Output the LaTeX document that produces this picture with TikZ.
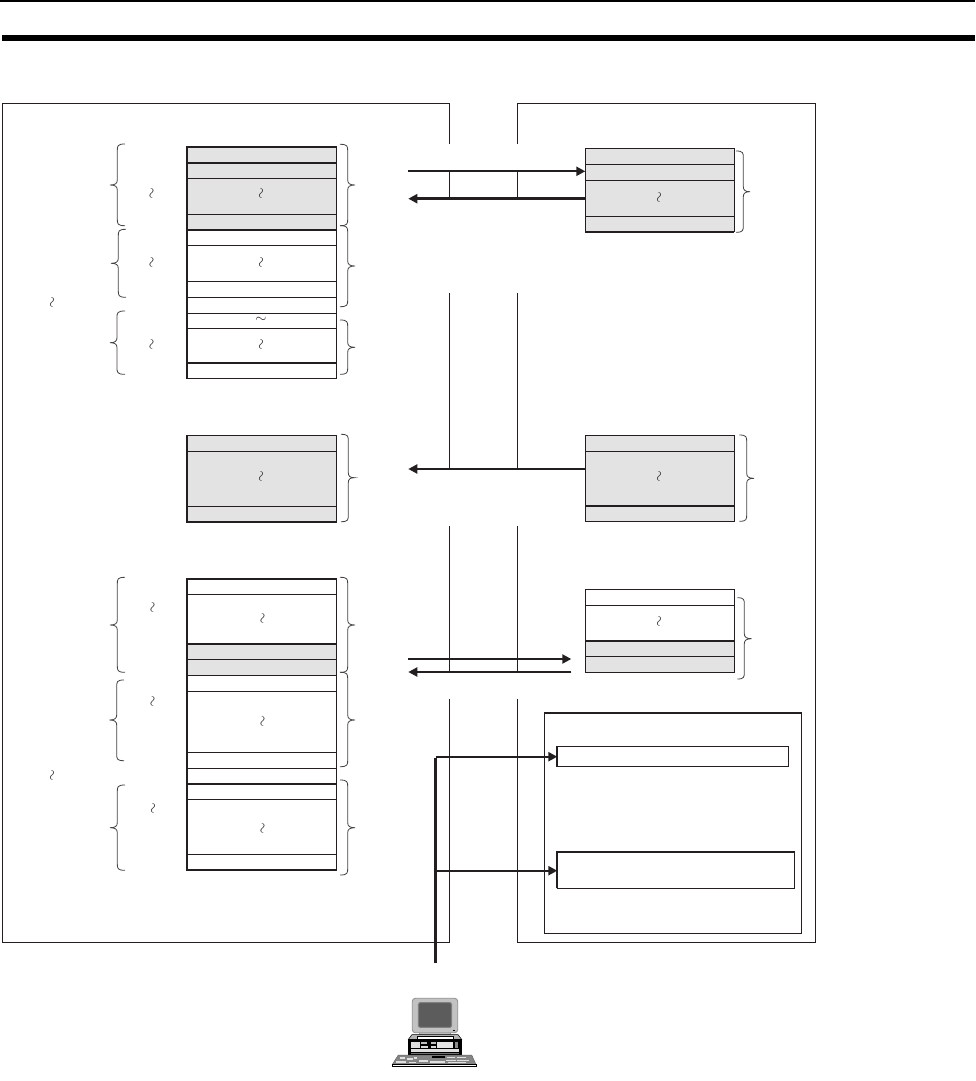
\documentclass[tikz,border=0pt]{standalone}
\usetikzlibrary{arrows.meta}
\definecolor{ink}{HTML}{231F20}
\definecolor{bandgray}{HTML}{E3E3E3}
\newcommand{\stk}[5]{% name x1 y1 x2 y2
  \pgfmathsetmacro{\stkw}{#4-#2}\pgfmathsetmacro{\stkh}{#5-#3}
  \node[stackbox,minimum width=\stkw pt,minimum height=\stkh pt] (#1) at (#2,#3) {};}
\newcommand{\lightrows}[3]{% x1 x2 list of y
  \foreach \yy in {#3} {\draw[thinrow] (#1,\yy) -- (#2,\yy);}}
\newcommand{\heavyrows}[3]{%
  \foreach \yy in {#3} {\draw[thickrow] (#1,\yy) -- (#2,\yy);}}
\newcommand{\bandfill}[4]{\fill[bandgray] (#1,#2) rectangle (#3,#4);}
\newcommand{\brc}[6]{% xend xspine xtip y1 ytip y2
  \pgfmathsetmacro{\xq}{#2+0.3*(#3-#2)}
  \draw[bracestroke] (#1,#4) .. controls (#2,#4) and (#2,#4+2) .. (#2,#4+7)
    -- (#2,#5-5) .. controls (#2,#5-1.5) and (\xq,#5) .. (#3,#5)
    .. controls (\xq,#5) and (#2,#5+1.5) .. (#2,#5+5)
    -- (#2,#6-7) .. controls (#2,#6-2) and (#2,#6) .. (#1,#6);}
\begin{document}
\begin{tikzpicture}[x=1pt,y=-1pt,
  frame/.style={draw=ink,line width=1pt},
  stackbox/.style={draw=ink,line width=1.1pt,anchor=north west,inner sep=0pt,outer sep=0pt},
  thinrow/.style={draw=ink,line width=0.9pt},
  thickrow/.style={draw=ink,line width=1.7pt},
  bracestroke/.style={draw=ink!85,line width=0.8pt},
  wig/.style={inner sep=0pt,text=ink,rotate=82,font=\fontsize{13.5}{13.5}\selectfont},
  flow/.style={draw=ink,line width=2.2pt,-{Triangle[length=9pt,width=9pt]}},
  flowheavy/.style={draw=ink,line width=2.7pt,-{Triangle[length=9pt,width=9pt]}}
]
\useasboundingbox (0,0) rectangle (975,1081);
\fill[white] (0,0) rectangle (975,1081);
% header rules
\fill[black] (0,0) rectangle (975,2);
\fill[black] (2,35) rectangle (975,41);

% outer frames, broken where the arrows pass
\draw[frame] (449.5,143.5) -- (449.5,103.3) -- (2.7,103.3) -- (2.7,942.3) -- (449.5,942.3) -- (449.5,699);
\draw[frame] (517.3,143.5) -- (517.3,103.3) -- (815.3,103.3) -- (815.3,942.3) -- (517.3,942.3) -- (517.3,699);
\foreach \xx in {449.5,517.3} {
  \draw[frame] (\xx,172) -- (\xx,199);
  \draw[frame] (\xx,293.3) -- (\xx,469);
  \draw[frame] (\xx,526) -- (\xx,672);
}

% left stack 1
\bandfill{187}{146.7}{336.5}{230}
\stk{la}{187}{146.7}{336.5}{378.3}
\lightrows{187}{336.5}{178.3,214.3,245.3,281.3,297.3,313.3,328.3}
\heavyrows{187}{336.5}{146.7,162.7,230,362.7}
% left stack 2
\bandfill{187}{435.3}{336.5}{522}
\stk{lb}{187}{435.3}{336.5}{522}
\lightrows{187}{336.5}{451.3,506.3}
\heavyrows{187}{336.5}{522}
% left stack 3
\bandfill{187}{643.7}{336.5}{675.3}
\stk{lc}{187}{579}{336.5}{870}
\lightrows{187}{336.5}{594.3,659.3,675.3,691.3,752.3,768.3,799.3,854.3}
\heavyrows{187}{336.5}{579,643.7,784,870}
% right stack 1
\bandfill{585.3}{148.3}{734.3}{231.7}
\stk{ra}{585.3}{148.3}{734.3}{231.7}
\lightrows{585.3}{734.3}{164.3,180.3,216.3}
\heavyrows{585.3}{734.3}{231.7}
% right stack 2
\bandfill{585.3}{435.3}{734.3}{521.3}
\stk{rb}{585.3}{435.3}{734.3}{521.3}
\lightrows{585.3}{734.3}{451.3}
\heavyrows{585.3}{734.3}{506}
% right stack 3
\bandfill{585.3}{641}{734.3}{672.3}
\stk{rc}{585.3}{589.3}{734.3}{672.3}
\lightrows{585.3}{734.3}{605.3,656.3}
\heavyrows{585.3}{734.3}{641}

% squiggles
\foreach \px/\py [count=\i] in {262/194,262/262.7,262/345,152.5/194,152.5/262.7,152.5/345,53/303,
  262/476.7,263.5/618.3,263.5/721.7,263.5/828.3,153.5/607.7,153.5/701.7,154/809,53/775.7,
  660/197.7,660/477,660/621.7}
  \node[wig] (w\i) at (\px,\py) {$\sim$};
\node[inner sep=0pt,text=ink,font=\fontsize{14}{14}\selectfont] (wh) at (261,320) {$\sim$};

% left braces
\brc{125}{117.3}{110}{144}{185}{225.7}
\brc{126}{118.3}{111}{229.3}{263.3}{297.3}
\brc{125}{117}{110}{311}{342.7}{374.3}
\brc{125}{117.3}{110}{577.3}{625}{672.3}
\brc{124}{116.7}{109.3}{680}{720}{760.7}
\brc{125}{117.3}{110}{785}{827.7}{870.3}
% right braces
\brc{340}{347.7}{355}{144.3}{185}{225.7}
\brc{340}{347.7}{355}{225.7}{266}{306.7}
\brc{340}{347.7}{355}{320}{347.3}{374.3}
\brc{341}{348.3}{354.3}{434.3}{477.7}{521.7}
\brc{340}{347.7}{355}{577.3}{625}{672.3}
\brc{340}{347.7}{355}{672.3}{720}{766.7}
\brc{340}{347.7}{355}{780}{827.7}{875}
\brc{736}{743.3}{750}{151}{191.7}{232.3}
\brc{739.3}{746.7}{754}{435}{478.3}{521.3}
\brc{737.3}{744.3}{751.7}{597.7}{638.7}{679}

% arrows between the stacks
\coordinate (a1) at (408.3,171.3);
\coordinate (a2) at (408.3,198.7);
\coordinate (a3) at (408.3,469);
\coordinate (a4) at (408.3,659);
\coordinate (a5) at (408.3,672);
\draw[flow] (a1) -- (ra.west |- a1);
\draw[flowheavy] (ra.west |- a2) -- (a2);
\draw[flow] (rb.west |- a3) -- (a3);
\draw[flow,shorten >=14pt] (a4) -- (rc.west |- a4);
\draw[flow,shorten <=14pt] (rc.west |- a5) -- (a5);

% inner panel
\node[draw=ink,line width=1pt,anchor=north west,inner sep=0pt,outer sep=0pt,minimum width=257.4pt,minimum height=220.6pt] (panel) at (544.3,712.7) {};
\draw[draw=ink,line width=1.8pt] (544.3,712.7) -- (801.7,712.7);
\node[draw=ink,line width=1pt,anchor=north west,inner sep=0pt,outer sep=0pt,minimum width=231.4pt,minimum height=20.4pt] (pa) at (557.3,746.3) {};
\draw[draw=ink,line width=1.7pt] (pa.north west) -- (pa.south west);
\node[draw=ink,line width=1pt,anchor=north west,inner sep=0pt,outer sep=0pt,minimum width=237.4pt,minimum height=36.3pt] (pb) at (557.3,852) {};
\draw[draw=ink,line width=1.9pt] (pb.south west) -- (pb.north west) -- (pb.north east);

% computer link
\coordinate (pcup) at (435.7,962.7);
\coordinate (tapa) at (435.7,756.7);
\coordinate (tapb) at (435.7,870.7);
\draw[draw=ink,line width=2.7pt,line cap=butt] (pcup) -- ([yshift=-1.1pt]tapa);
\draw[flow] (tapa) -- (pa.west |- tapa);
\draw[flow] (tapb) -- (pb.west |- tapb);

% computer
\fill[black!24] (420,1033) -- (450,1033) -- (452,1037) -- (418,1037) -- cycle;
\draw[black!55,line width=0.5pt] (420,1033) -- (418,1037) -- (452,1037) -- (450,1033);
\filldraw[fill=black!24,draw=black!45,line width=0.8pt,rounded corners=3pt] (412.3,998.3) rectangle (457.7,1032.7);
\filldraw[fill=black!64,draw=black!50,line width=1pt,rounded corners=1.5pt] (418.3,1002.7) rectangle (451.7,1027.3);
\fill[black] (453,1030) rectangle (455,1031);
\filldraw[fill=black!30,draw=black,line width=0.5pt] (412,1034.5) -- (408.3,1039.5) -- (461.7,1039.5) -- (458,1034.5) -- cycle;
\filldraw[fill=white,draw=black,line width=0.7pt] (417,1036.5) rectangle (453.5,1039);
\fill[black] (408.3,1039.3) rectangle (461.7,1055);
\fill[black!12] (410.7,1041.5) rectangle (420,1048);
\fill[black!25] (421,1041.5) rectangle (427,1044);
\fill[black!25] (431,1041.5) rectangle (435.5,1044);
\fill[black!15] (421,1045.5) rectangle (428,1048);
\fill[black!15] (431,1045.5) rectangle (436,1048);
\fill[black!10] (437,1041.5) rectangle (453,1048);
\fill[black!45] (455,1041.5) rectangle (458,1048);
\fill[black!12] (410.7,1049) rectangle (459,1051.8);
\fill[black!55] (410.7,1053) rectangle (459,1054.3);
\filldraw[fill=black!48,draw=black!60,line width=0.5pt] (398.3,1055) -- (471.7,1055) -- (476,1064.5) -- (392.3,1064.5) -- cycle;
\foreach \kx/\ky/\kw/\kh in {400/1056.5/5/2,407/1058/6/2,414/1056.5/3/2,396/1061/10/1.8,409/1061.5/7/1.5,419/1060/9/1.8,
  447/1056.5/8/1.6,457/1056.5/9/1.6,446/1059.5/10/1.6,457/1059.5/12/1.6,430/1061/15/1.6,448/1062/18/1.2}
  \fill[black!12] (\kx,\ky) rectangle ++(\kw,\kh);
\fill[black] (431.7,1056) rectangle (445,1058);
\filldraw[fill=white,draw=black,line width=0.6pt] (392.3,1064.5) rectangle (476,1066.7);
\end{tikzpicture}
\end{document}
